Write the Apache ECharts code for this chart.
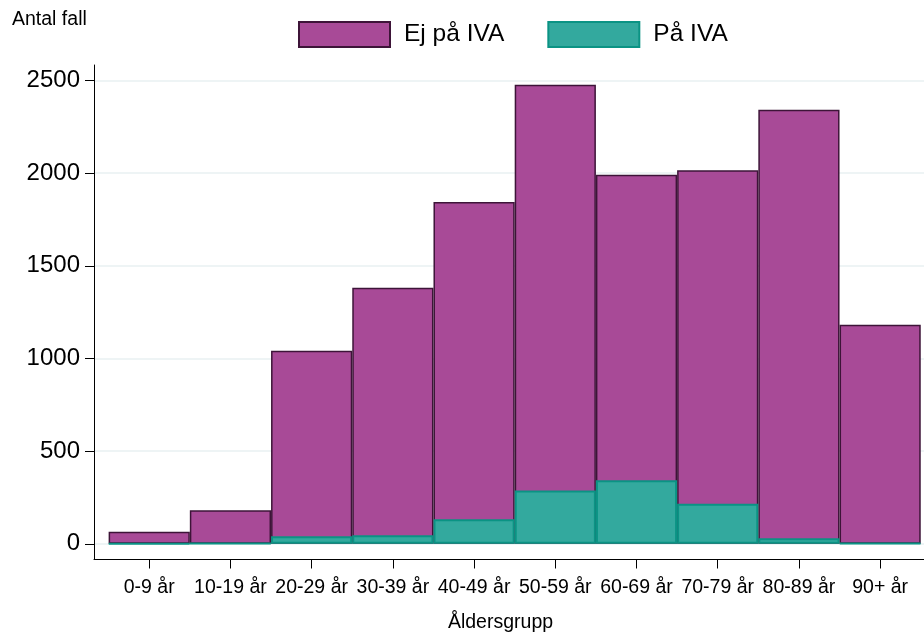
<!DOCTYPE html>
<html>
<head>
<meta charset="utf-8">
<script src="https://cdn.jsdelivr.net/npm/echarts@6/dist/echarts.min.js"></script>
<style>html,body{margin:0;padding:0;background:#fff}#c{width:924px;height:634px}</style>
</head>
<body>
<div id="c"></div>
<script>
const categories = ['0-9 år','10-19 år','20-29 år','30-39 år','40-49 år','50-59 år','60-69 år','70-79 år','80-89 år','90+ år'];
const ejPaIVA = [65, 181, 1042, 1382, 1845, 2478, 1992, 2016, 2343, 1182];
const paIVA = [1, 2, 40, 46, 132, 287, 343, 216, 30, 2];
const yTicks = [0, 500, 1000, 1500, 2000, 2500];
const seriesNames = ['Ej på IVA', 'På IVA'];

const chart = echarts.init(document.getElementById('c'), null, {renderer: 'canvas'});
const idx = categories.map((_, i) => i);
const font = 'Liberation Sans, Arial, Helvetica, sans-serif';

chart.setOption({
  animation: false,
  backgroundColor: '#fff',
  graphic: [
    {type: 'text', x: 12, y: 20, style: {text: 'Antal fall', fontFamily: font, fontSize: 19.5, fill: '#000', textAlign: 'left', textVerticalAlign: 'middle'}},
    {type: 'text', x: 500.5, y: 623, style: {text: 'Åldersgrupp', fontFamily: font, fontSize: 19.5, fill: '#000', textAlign: 'center', textVerticalAlign: 'middle'}}
  ],
  legend: {
    left: 293, top: 16, itemWidth: 91, itemHeight: 25, itemGap: 43, icon: 'rect',
    textStyle: {fontFamily: font, fontSize: 24.5, color: '#000', padding: [0, 0, 0, 9]},
    data: seriesNames
  },
  grid: {left: 94, right: 0, top: 65, bottom: 74.5, containLabel: false},
  xAxis: {
    type: 'value', min: -0.68, max: 9.54,
    axisLine: {show: true, onZero: false, lineStyle: {color: '#000', width: 1}},
    axisTick: {show: true, length: 9, customValues: idx, lineStyle: {color: '#000'}},
    axisLabel: {customValues: idx, margin: 18, fontFamily: font, fontSize: 19.5, color: '#000',
      formatter: v => categories[Math.round(v)]},
    splitLine: {show: false}
  },
  yAxis: {
    type: 'value', min: -85, max: 2584,
    axisLine: {show: true, onZero: false, lineStyle: {color: '#000', width: 1}},
    axisTick: {show: true, length: 9, customValues: yTicks, lineStyle: {color: '#000'}},
    axisLabel: {customValues: yTicks, margin: 14, fontFamily: font, fontSize: 24, color: '#000',
      formatter: v => String(v)},
    splitLine: {show: true, lineStyle: {color: '#e9f1f2', width: 1.5}}
  },
  series: [
    {
      name: seriesNames[0], type: 'bar', barWidth: 81.2, barGap: '-100%',
      data: ejPaIVA.map((v, i) => [i, v]),
      itemStyle: {color: '#a84a97', borderColor: '#3d1438', borderWidth: 1.5}
    },
    {
      name: seriesNames[1], type: 'bar', barWidth: 81.2, barGap: '-100%',
      data: paIVA.map((v, i) => [i, v]),
      itemStyle: {color: '#33a99e', borderColor: '#0b9384', borderWidth: 2}
    }
  ]
});
</script>
</body>
</html>
